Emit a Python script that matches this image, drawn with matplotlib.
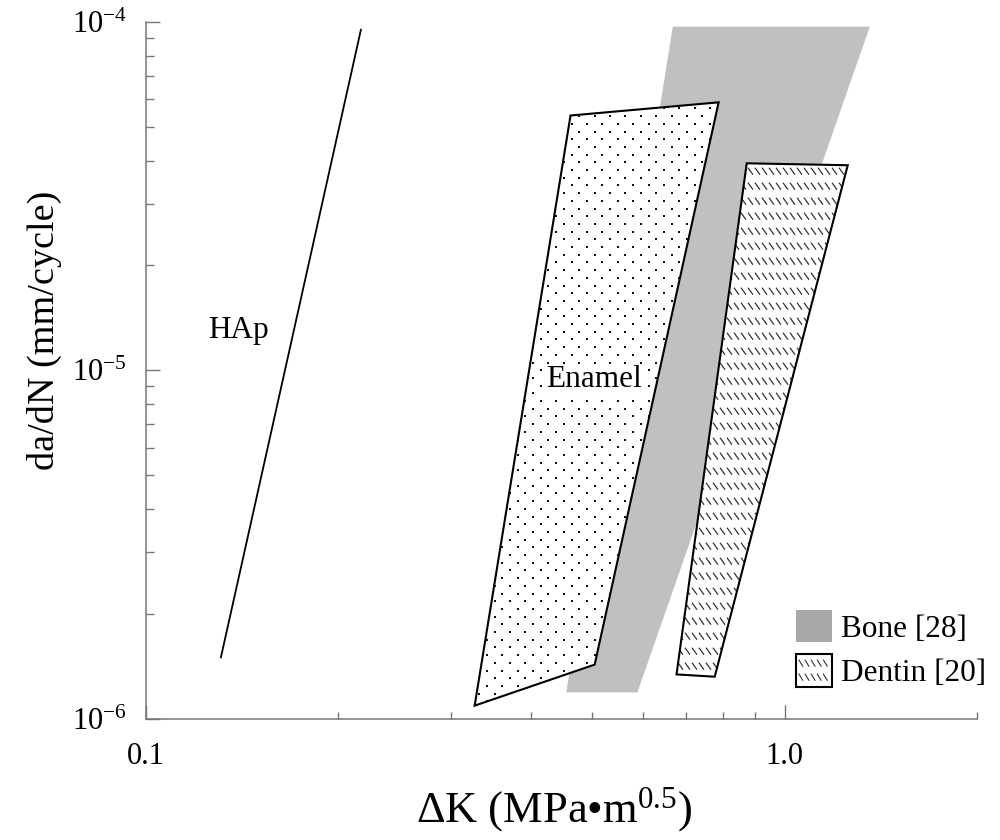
import matplotlib
matplotlib.use('Agg')
import matplotlib.pyplot as plt
import numpy as np
from matplotlib.patches import Polygon, Patch, Rectangle
from matplotlib.collections import LineCollection
from matplotlib.legend_handler import HandlerBase

plt.rcParams['font.family'] = ['Liberation Serif', 'DejaVu Serif']
plt.rcParams['mathtext.fontset'] = 'custom'
plt.rcParams['mathtext.rm'] = 'Liberation Serif'
plt.rcParams['mathtext.it'] = 'Liberation Serif:italic'

# values: dK in MPa m^0.5, da/dN in mm/cycle
hap_dk = [0.131, 0.217]
hap_dadn = [1.50e-6, 9.5e-5]

enamel_dk = [0.462, 0.788, 0.504, 0.327]
enamel_dadn = [5.39e-5, 5.88e-5, 1.43e-6, 1.09e-6]

bone_dk = [0.668, 1.359, 0.588, 0.455]
bone_dadn = [9.7e-5, 9.7e-5, 1.19e-6, 1.19e-6]

dentin_dk = [0.872, 1.255, 0.777, 0.677]
dentin_dadn = [3.93e-5, 3.88e-5, 1.32e-6, 1.34e-6]

xticks = [0.1, 1.0]
xticklabels = ['0.1', '1.0']
yticks = [1e-6, 1e-5, 1e-4]
yticklabels = ['$10^{-6}$', '$10^{-5}$', '$10^{-4}$']
legend_labels = ['Bone [28]', 'Dentin [20]']

AX_W, AX_H = 831.0, 696.7   # axes size in px, textures are laid out in axes fraction
SPINE = '#767676'


def dot_texture(ax, clip, step=7.7):
    pts = []
    for i, y in enumerate(np.arange(2, AX_H, step)):
        x0 = 2 if i % 2 == 0 else 2 + step
        for x in np.arange(x0, AX_W, 2 * step):
            pts.append((x / AX_W, y / AX_H))
    pts = np.array(pts)
    ln, = ax.plot(pts[:, 0], pts[:, 1], ls='none', marker='s', ms=1.5, mew=0,
                  color='#111111', transform=ax.transAxes)
    ln.set_clip_path(clip)


def dash_texture(ax, clip, row=15.0, col=7.0, dw=5.0, dh=7.0):
    segs = []
    for y in np.arange(4, AX_H, row):
        for x in np.arange(0, AX_W, col):
            segs.append([(x / AX_W, (y + dh) / AX_H), ((x + dw) / AX_W, y / AX_H)])
    lc = LineCollection(segs, colors='#333333', linewidths=0.9, transform=ax.transAxes)
    ax.add_collection(lc, autolim=False)
    lc.set_clip_path(clip)


class DentinKey:
    pass


class DentinHandler(HandlerBase):
    def create_artists(self, legend, orig_handle, xdescent, ydescent, width, height,
                       fontsize, trans):
        x0, y0 = -xdescent, -ydescent
        box = Rectangle((x0, y0), width, height, facecolor='white', edgecolor='black',
                        lw=1.5, transform=trans)
        segs = []
        for yy in (0.62, 0.18):
            for xx in np.arange(0.08, 0.85, 0.17):
                segs.append([(x0 + xx * width, y0 + (yy + 0.22) * height),
                             (x0 + (xx + 0.12) * width, y0 + yy * height)])
        lc = LineCollection(segs, colors='#333333', linewidths=0.8, transform=trans)
        return [box, lc]


fig = plt.figure(figsize=(10, 8.4), dpi=100)
ax = fig.add_axes([0.146, 0.1444, 0.831, 0.8294])
ax.set_xscale('log')
ax.set_yscale('log')

bone = Polygon(np.column_stack([bone_dk, bone_dadn]), closed=True,
               facecolor='#c0c0c0', edgecolor='none', zorder=1)
ax.add_patch(bone)

enamel = Polygon(np.column_stack([enamel_dk, enamel_dadn]), closed=True,
                 facecolor='white', edgecolor='none', zorder=2)
ax.add_patch(enamel)
dot_texture(ax, enamel)
ax.add_patch(Polygon(np.column_stack([enamel_dk, enamel_dadn]), closed=True,
                     facecolor='none', edgecolor='black', lw=1.5, zorder=4))

dentin = Polygon(np.column_stack([dentin_dk, dentin_dadn]), closed=True,
                 facecolor='white', edgecolor='none', zorder=2)
ax.add_patch(dentin)
dash_texture(ax, dentin)
ax.add_patch(Polygon(np.column_stack([dentin_dk, dentin_dadn]), closed=True,
                     facecolor='none', edgecolor='black', lw=1.5, zorder=4))

ax.plot(hap_dk, hap_dadn, color='black', lw=1.3, zorder=4)

ax.text(0.125, 1.24e-5, 'HAp', fontsize=22.5, ha='left', va='baseline', zorder=5)
ax.text(0.4236, 8.98e-6, 'Enamel', fontsize=22.5, ha='left', va='baseline', zorder=5,
        bbox=dict(facecolor='white', edgecolor='none', pad=0))

ax.set_xlim(0.1, 2.0)
ax.set_ylim(1e-6, 1e-4)
ax.set_xticks(xticks)
ax.set_xticklabels(xticklabels)
ax.set_yticks(yticks)
ax.set_yticklabels(yticklabels)

for side in ('top', 'right'):
    ax.spines[side].set_visible(False)
for side in ('left', 'bottom'):
    ax.spines[side].set_color(SPINE)
    ax.spines[side].set_linewidth(1.1)

ax.tick_params(which='both', direction='in', color=SPINE, width=1.0)
ax.tick_params(which='major', length=10, labelsize=22)
ax.tick_params(which='minor', length=5.4)
ax.tick_params(axis='x', which='major', pad=17)
ax.tick_params(axis='y', which='major', pad=14)

ax.set_xlabel('ΔK (MPa•m$^{0.5}$)', fontsize=32)
ax.xaxis.set_label_coords(0.491, -0.148)
ax.xaxis.label.set_verticalalignment('baseline')
ax.set_ylabel('da/dN (mm/cycle)', fontsize=27.5)
ax.yaxis.set_label_coords(-0.101, 0.558)

handles = [Patch(facecolor='#a9a9a9', edgecolor='none'), DentinKey()]
ax.legend(handles, legend_labels, handler_map={DentinKey: DentinHandler()},
          loc='lower left', bbox_to_anchor=(0.782, 0.044), frameon=False,
          fontsize=22.5, handlelength=1.15, handleheight=1.2, handletextpad=0.29,
          labelspacing=0.35, borderpad=0, borderaxespad=0)

fig.savefig('out.png', dpi=100)
